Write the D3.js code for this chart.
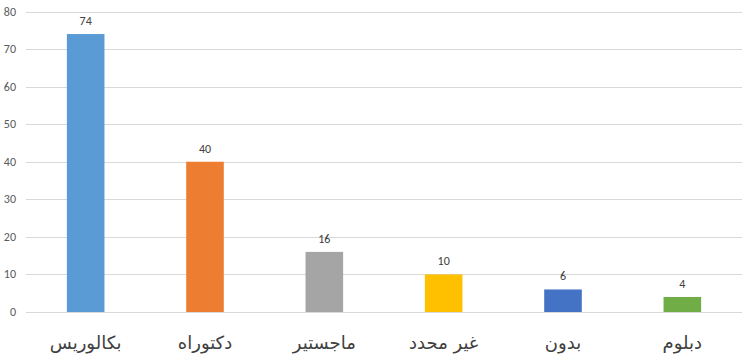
<!DOCTYPE html>
<html>
<head>
<meta charset="utf-8">
<script src="https://cdn.jsdelivr.net/npm/d3@7"></script>
<style>
body { margin: 0; background: #fff; }
</style>
</head>
<body>
<script>
var categories = ["بكالوريس", "دكتوراه", "ماجستير", "غير محدد", "بدون", "دبلوم"]
var values = [74, 40, 16, 10, 6, 4]
var colors = ["#5B9BD5", "#ED7D31", "#A5A5A5", "#FFC000", "#4472C4", "#70AD47"]
var ticks = [0, 10, 20, 30, 40, 50, 60, 70, 80]

var width = 752
var height = 359
var plotLeft = 26, plotRight = 742, plotTop = 11.5, plotBottom = 312

var svg = d3.select("body").append("svg")
    .attr("width", width)
    .attr("height", height)

var x = d3.scaleBand()
    .domain(categories)
    .range([plotLeft, plotRight])
    .paddingInner(0.685)
    .paddingOuter(0.3425)

var y = d3.scaleLinear()
    .domain([0, 80])
    .range([plotBottom, plotTop])

// gridlines
svg.append("g").selectAll("line")
    .data(ticks)
    .enter().append("line")
    .attr("x1", plotLeft)
    .attr("x2", plotRight)
    .attr("y1", function(d) { return Math.round(y(d)) + 0.5 })
    .attr("y2", function(d) { return Math.round(y(d)) + 0.5 })
    .attr("stroke", "#d9d9d9")
    .attr("stroke-width", 1)

// y tick labels
svg.append("g").selectAll("text")
    .data(ticks)
    .enter().append("text")
    .attr("x", 16)
    .attr("y", function(d) { return y(d) + 4 })
    .attr("text-anchor", "end")
    .attr("font-family", "Calibri, 'Liberation Sans', Arial, sans-serif")
    .attr("font-size", 12)
    .attr("fill", "#595959")
    .text(function(d) { return d })

// bars
svg.append("g").selectAll("rect")
    .data(values)
    .enter().append("rect")
    .attr("x", function(d, i) { return x(categories[i]) })
    .attr("width", x.bandwidth())
    .attr("y", function(d) { return y(d) })
    .attr("height", function(d) { return y(0) - y(d) })
    .attr("fill", function(d, i) { return colors[i] })

// data labels
svg.append("g").selectAll("text")
    .data(values)
    .enter().append("text")
    .attr("x", function(d, i) { return x(categories[i]) + x.bandwidth() / 2 })
    .attr("y", function(d) { return y(d) - 9 })
    .attr("text-anchor", "middle")
    .attr("font-family", "Calibri, 'Liberation Sans', Arial, sans-serif")
    .attr("font-size", 12)
    .attr("fill", "#404040")
    .text(function(d) { return d })

// category labels
svg.append("g").selectAll("text")
    .data(categories)
    .enter().append("text")
    .attr("x", function(d) { return x(d) + x.bandwidth() / 2 })
    .attr("y", 349)
    .attr("text-anchor", "middle")
    .attr("direction", "rtl")
    .attr("font-family", "'DejaVu Sans', sans-serif")
    .attr("font-size", 18)
    .attr("fill", "#404040")
    .text(function(d) { return d })
</script>
</body>
</html>
